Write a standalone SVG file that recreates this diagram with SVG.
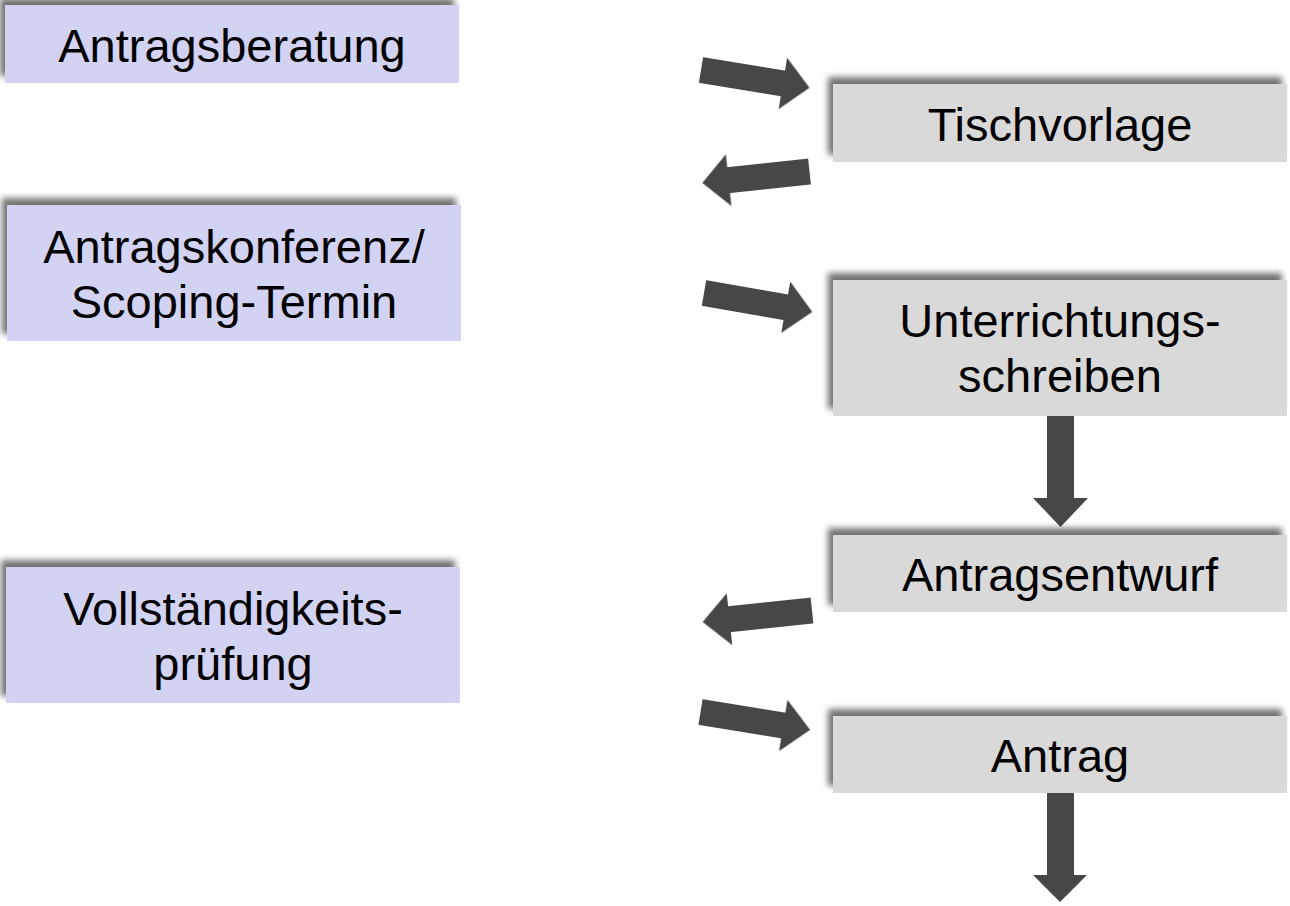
<svg xmlns="http://www.w3.org/2000/svg" width="1290" height="906" viewBox="0 0 1290 906">
  <defs>
    <filter id="sh" x="-5%" y="-20%" width="110%" height="140%">
      <feDropShadow dx="-5" dy="-7" stdDeviation="3" flood-color="#000" flood-opacity="0.55"/>
    </filter>
    <filter id="soft" x="-10%" y="-10%" width="120%" height="120%">
      <feGaussianBlur stdDeviation="0.6"/>
    </filter>
    <path id="arr" d="M0,-13 L83,-13 L83,-26 L110,0 L83,26 L83,13 L0,13 Z"/>
  </defs>
  <style>
    .blue { fill: #D2D2F2; filter: url(#sh); }
    .grey { fill: #D9D9D9; filter: url(#sh); }
    .lbl { font-family: "Liberation Sans", Arial, sans-serif; font-size: 47px; fill: #000; text-anchor: middle; }
    .ar { fill: #474747; filter: url(#soft); }
  </style>
  <rect width="1290" height="906" fill="#fff"/>

  <g id="connectors">
    <use href="#arr" class="ar" transform="translate(701,70) rotate(9.3)"/>
    <use href="#arr" class="ar" transform="translate(809.5,171.5) rotate(173.9) scale(0.98,1)"/>
    <use href="#arr" class="ar" transform="translate(704,293) rotate(9.9)"/>
    <use href="#arr" class="ar" transform="translate(812,610.5) rotate(174)"/>
    <use href="#arr" class="ar" transform="translate(700.5,712) rotate(9.25) scale(1.01,1)"/>
    <path class="ar" d="M1047,416 L1074,416 L1074,498 L1088,498 L1060.5,527 L1033,498 L1047,498 Z"/>
    <path class="ar" d="M1047,793 L1074,793 L1074,875 L1087,875 L1060,902 L1033,875 L1047,875 Z"/>
  </g>

  <g id="n-antragsberatung">
    <rect class="blue" x="5" y="5" width="454" height="78"/>
    <text class="lbl" x="232" y="62">Antragsberatung</text>
  </g>
  <g id="n-antragskonferenz">
    <rect class="blue" x="7" y="205" width="454" height="136"/>
    <text class="lbl" x="234" y="263">Antragskonferenz/</text>
    <text class="lbl" x="234" y="318">Scoping-Termin</text>
  </g>
  <g id="n-vollstaendigkeit">
    <rect class="blue" x="6" y="567" width="454" height="136"/>
    <text class="lbl" x="233" y="625">Vollständigkeits-</text>
    <text class="lbl" x="233" y="680">prüfung</text>
  </g>

  <g id="n-tischvorlage">
    <rect class="grey" x="833" y="84" width="454" height="78"/>
    <text class="lbl" x="1060" y="141">Tischvorlage</text>
  </g>
  <g id="n-unterrichtung">
    <rect class="grey" x="833" y="280" width="454" height="136"/>
    <text class="lbl" x="1060" y="337">Unterrichtungs-</text>
    <text class="lbl" x="1060" y="392">schreiben</text>
  </g>
  <g id="n-antragsentwurf">
    <rect class="grey" x="833" y="535" width="454" height="77"/>
    <text class="lbl" x="1060" y="591">Antragsentwurf</text>
  </g>
  <g id="n-antrag">
    <rect class="grey" x="833" y="716" width="454" height="77"/>
    <text class="lbl" x="1060" y="772">Antrag</text>
  </g>
</svg>
